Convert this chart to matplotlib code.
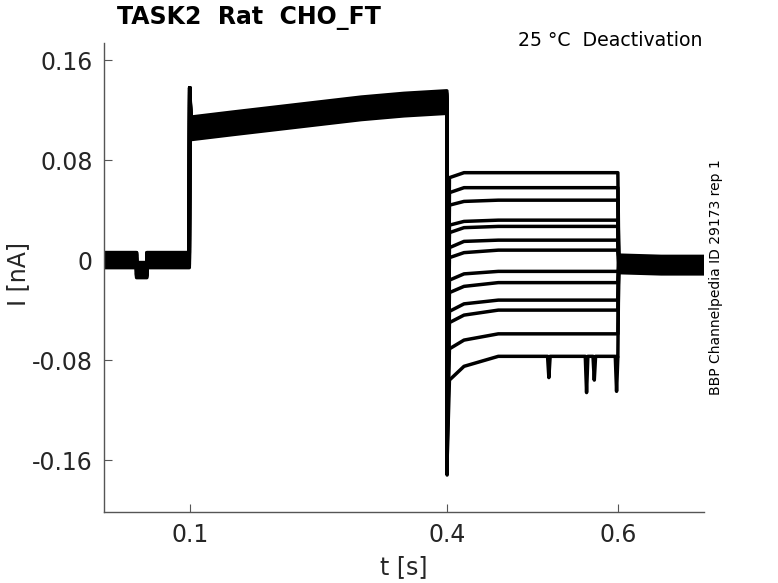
import numpy as np
import matplotlib
matplotlib.use('Agg')
import matplotlib.pyplot as plt

# holding period (all sweeps), with the small dip around 40-50 ms
pre_t = [0.0, 0.038, 0.038, 0.050, 0.050, 0.0995]
pre_base = [0.0, 0.0, -0.008, -0.008, 0.0, 0.0]

# activating step 0.1 - 0.4 s
act_spike = 0.138
act_t = [0.1015, 0.15, 0.2, 0.25, 0.3, 0.35, 0.3995]
act_mean = [0.106, 0.110, 0.114, 0.118, 0.122, 0.125, 0.127]

# deactivation steps 0.4 - 0.6 s, one value per sweep
deact_spike = [-0.172, -0.15, -0.14, -0.13, -0.12, -0.12, -0.12, -0.13, -0.13, -0.14, -0.14, -0.15, -0.16]
deact_early = [0.066, 0.054, 0.044, 0.028, 0.022, 0.010, 0.002, -0.016, -0.026, -0.041, -0.050, -0.071, -0.096]
deact_mid = [0.070, 0.058, 0.047, 0.031, 0.026, 0.015, 0.006, -0.011, -0.021, -0.035, -0.044, -0.064, -0.085]
deact_ss = [0.070, 0.058, 0.048, 0.032, 0.027, 0.016, 0.008, -0.009, -0.018, -0.032, -0.040, -0.059, -0.077]
deact_t = [0.4003, 0.403, 0.42, 0.46, 0.5995]

# sharp downward events on the lowest sweep
dip_t = [0.519, 0.563, 0.572, 0.598]
dip_v = [-0.094, -0.106, -0.096, -0.105]

# return to holding after 0.6 s
post_t = [0.6005, 0.65, 0.7]
post_mean = [-0.003, -0.004, -0.004]

# sweep-to-sweep spread in the shared segments
pre_off = [0.006, -0.004, 0.001, -0.006, 0.004, -0.001, 0.006, -0.005, 0.002, 0.0, -0.003, 0.005, -0.004]
act_off = [0.0085, -0.0055, 0.002, -0.0095, 0.005, -0.001, 0.0065, -0.004, 0.0005, 0.0035, -0.008, -0.0025, -0.0065]
post_off = [0.007, -0.005, 0.002, -0.007, 0.004, -0.001, 0.006, -0.006, 0.001, -0.003, 0.005, -0.004, 0.0]

fig = plt.figure(figsize=(7.78, 5.83), dpi=100)
ax = fig.add_axes([104/778, 71/583, 600/778, 469/583])

n = len(deact_ss)
for i in range(n):
    t = list(pre_t) + [0.1] + list(act_t)
    y = [v + pre_off[i] for v in pre_base] + [act_spike] + [v + act_off[i] for v in act_mean]
    d_t = list(deact_t)
    d_y = [deact_spike[i], deact_early[i], deact_mid[i], deact_ss[i], deact_ss[i]]
    if i == n - 1:
        for td, dv in zip(dip_t, dip_v):
            d_t += [td - 0.0015, td, td + 0.0015]
            d_y += [deact_ss[i], dv, deact_ss[i]]
        order = np.argsort(d_t, kind='stable')
        d_t = [d_t[k] for k in order]
        d_y = [d_y[k] for k in order]
    t += [0.4] + d_t + list(post_t)
    y += [act_mean[-1] + act_off[i]] + d_y + [v + post_off[i] for v in post_mean]
    ax.plot(t, y, color='black', linewidth=2.5, solid_joinstyle='round')

ax.set_xlim(0.0, 0.7)
ax.set_ylim(-0.2016, 0.1738)
ax.set_xticks([0.1, 0.4, 0.6])
ax.set_xticklabels(['0.1', '0.4', '0.6'])
ax.set_yticks([-0.16, -0.08, 0, 0.08, 0.16])
ax.set_yticklabels(['-0.16', '-0.08', '0', '0.08', '0.16'])
ax.tick_params(direction='in', length=6, width=0.8, color='#555555',
               labelsize=17, labelcolor='#262626', pad=8)
for s in ['top', 'right']:
    ax.spines[s].set_visible(False)
for s in ['left', 'bottom']:
    ax.spines[s].set_color('#555555')
    ax.spines[s].set_linewidth(1.0)

fig.text(117/778, 1 - 18/583, 'TASK2  Rat  CHO_FT', fontsize=17, fontweight='bold',
         ha='left', va='center', color='black')
fig.text(703/778, 1 - 40/583, '25 °C  Deactivation', fontsize=13.6,
         ha='right', va='center', color='black')
fig.text(716/778, 1 - 277/583, 'BBP Channelpedia ID 29173 rep 1', fontsize=10,
         rotation=90, ha='center', va='center', color='black')
fig.text(18/778, 1 - 274/583, 'I [nA]', fontsize=17, rotation=90,
         ha='center', va='center', color='#262626')
fig.text(404/778, 1 - 567/583, 't [s]', fontsize=17,
         ha='center', va='center', color='#262626')

plt.savefig('out.png', dpi=100)
